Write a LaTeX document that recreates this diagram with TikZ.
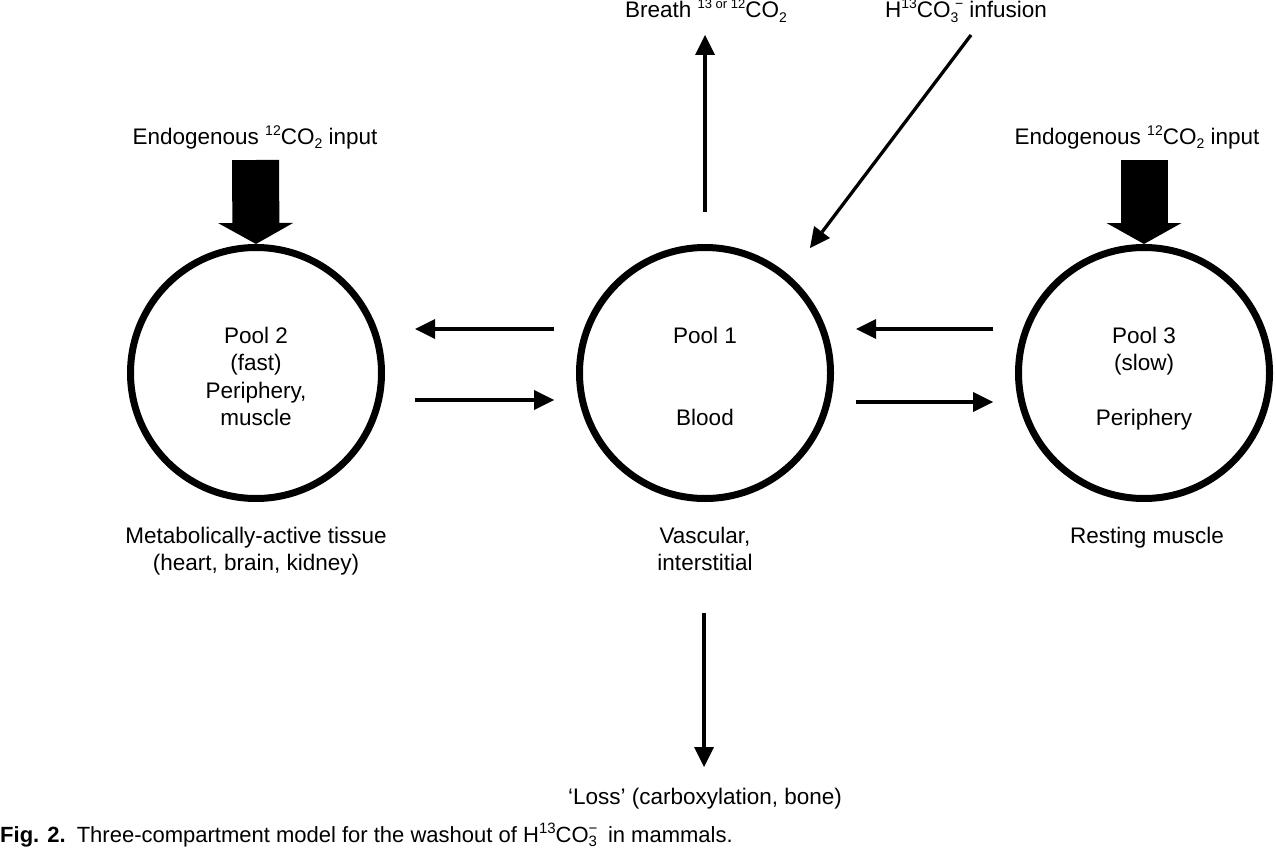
\documentclass[tikz,border=0pt]{standalone}
\usepackage{fontspec}
\setmainfont{Liberation Sans}
\newfontfamily\capfont{Liberation Sans}
\usetikzlibrary{arrows.meta,calc}
\newcommand\upx[1]{\raisebox{0.40em}{\fontsize{14}{14}\selectfont #1}}
\newcommand\dnx[1]{\raisebox{-0.20em}{\fontsize{14}{14}\selectfont #1}}
\tikzset{
  pool/.style={circle, draw, line width=7pt, minimum size=251pt, inner sep=0pt},
  txt/.style={font=\fontsize{22.5}{27.3}\selectfont, align=center, inner sep=0pt},
  thinarr/.style={line width=3.3pt, -{Triangle[length=20pt,width=20pt,line width=0pt]}},
  thickarr/.style={line width=47pt, -{Triangle[length=21pt,width=75pt,line width=0pt]}},
}
\begin{document}
\begin{tikzpicture}[x=1pt,y=-1pt]
\useasboundingbox (0,0) rectangle (1276,848);
% pools
\node[pool] (p2) at (256,373) {};
\node[pool] (p1) at (705,373) {};
\node[pool] (p3) at (1144,373) {};
\node[txt, anchor=north] (t2) at (256,327) {Pool 2\\(fast)\\Periphery,\\muscle};
\node[txt, anchor=north] (t1) at (705,327) {Pool 1\\[54.6pt]Blood};
\node[txt, anchor=north] (t3) at (1144,327) {Pool 3\\(slow)\\[27.3pt]Periphery};
% descriptions
\node[txt, anchor=north] (d2) at (256,527) {Metabolically-active tissue\\(heart, brain, kidney)};
\node[txt, anchor=north] (d1) at (705,527) {Vascular,\\interstitial};
\node[txt, anchor=base] (d3) at (1147,543) {Resting muscle};
\node[txt, anchor=base] (loss) at (705,804) {`Loss' (carboxylation, bone)};
% inputs
\node[txt, anchor=base] (in2) at (255,144) {Endogenous \upx{12}CO\dnx{2} input};
\node[txt, anchor=base] (in3) at (1137,144) {Endogenous \upx{12}CO\dnx{2} input};
\node[txt, anchor=base] (br) at (706,18) {Breath \upx{\fontsize{13}{13}\selectfont 13 or 12}CO\dnx{2}};
\node[txt, anchor=base] (inf) at (966,18) {H\upx{13}CO\dnx{3}\kern-0.15em\upx{\textminus} infusion};
% caption
\node[anchor=base west, inner sep=0pt, font=\capfont\fontsize{22}{24}\selectfont] (cap) at (0,842)
  {\textbf{Fig. 2.}\enspace Three-compartment model for the washout of H\upx{\fontsize{15}{15}\selectfont 13}CO\rlap{\upx{\fontsize{15}{15}\selectfont\textminus}}\dnx{\fontsize{15}{15}\selectfont 3}\enspace in mammals.};
% coordinates for free ends
\coordinate (s2) at (255.5,160);
\coordinate (s3) at (1144,160);
\coordinate (b0) at (705,212);
\coordinate (b1) at (705,35);
\coordinate (f0) at (971,35);
\coordinate (f1) at (810,248);
\coordinate (l0) at (704,613);
\coordinate (l1) at (704,767);
\coordinate (a0) at (554,329);
\coordinate (a1) at (415,329);
\coordinate (a2) at (415,400);
\coordinate (a3) at (554,400);
\coordinate (c0) at (993,329);
\coordinate (c1) at (856,329);
\coordinate (c2) at (856,402);
\coordinate (c3) at (993,402);
% arrows
\draw[thickarr] (s2) -- (p2.north);
\draw[thickarr] (s3) -- (p3.north);
\draw[thinarr] (b0) -- (b1);
\draw[thinarr] (f0) -- (f1);
\draw[thinarr] (l0) -- (l1);
\draw[thinarr] (a0) -- (a1);
\draw[thinarr] (a2) -- (a3);
\draw[thinarr] (c0) -- (c1);
\draw[thinarr] (c2) -- (c3);
\end{tikzpicture}
\end{document}
